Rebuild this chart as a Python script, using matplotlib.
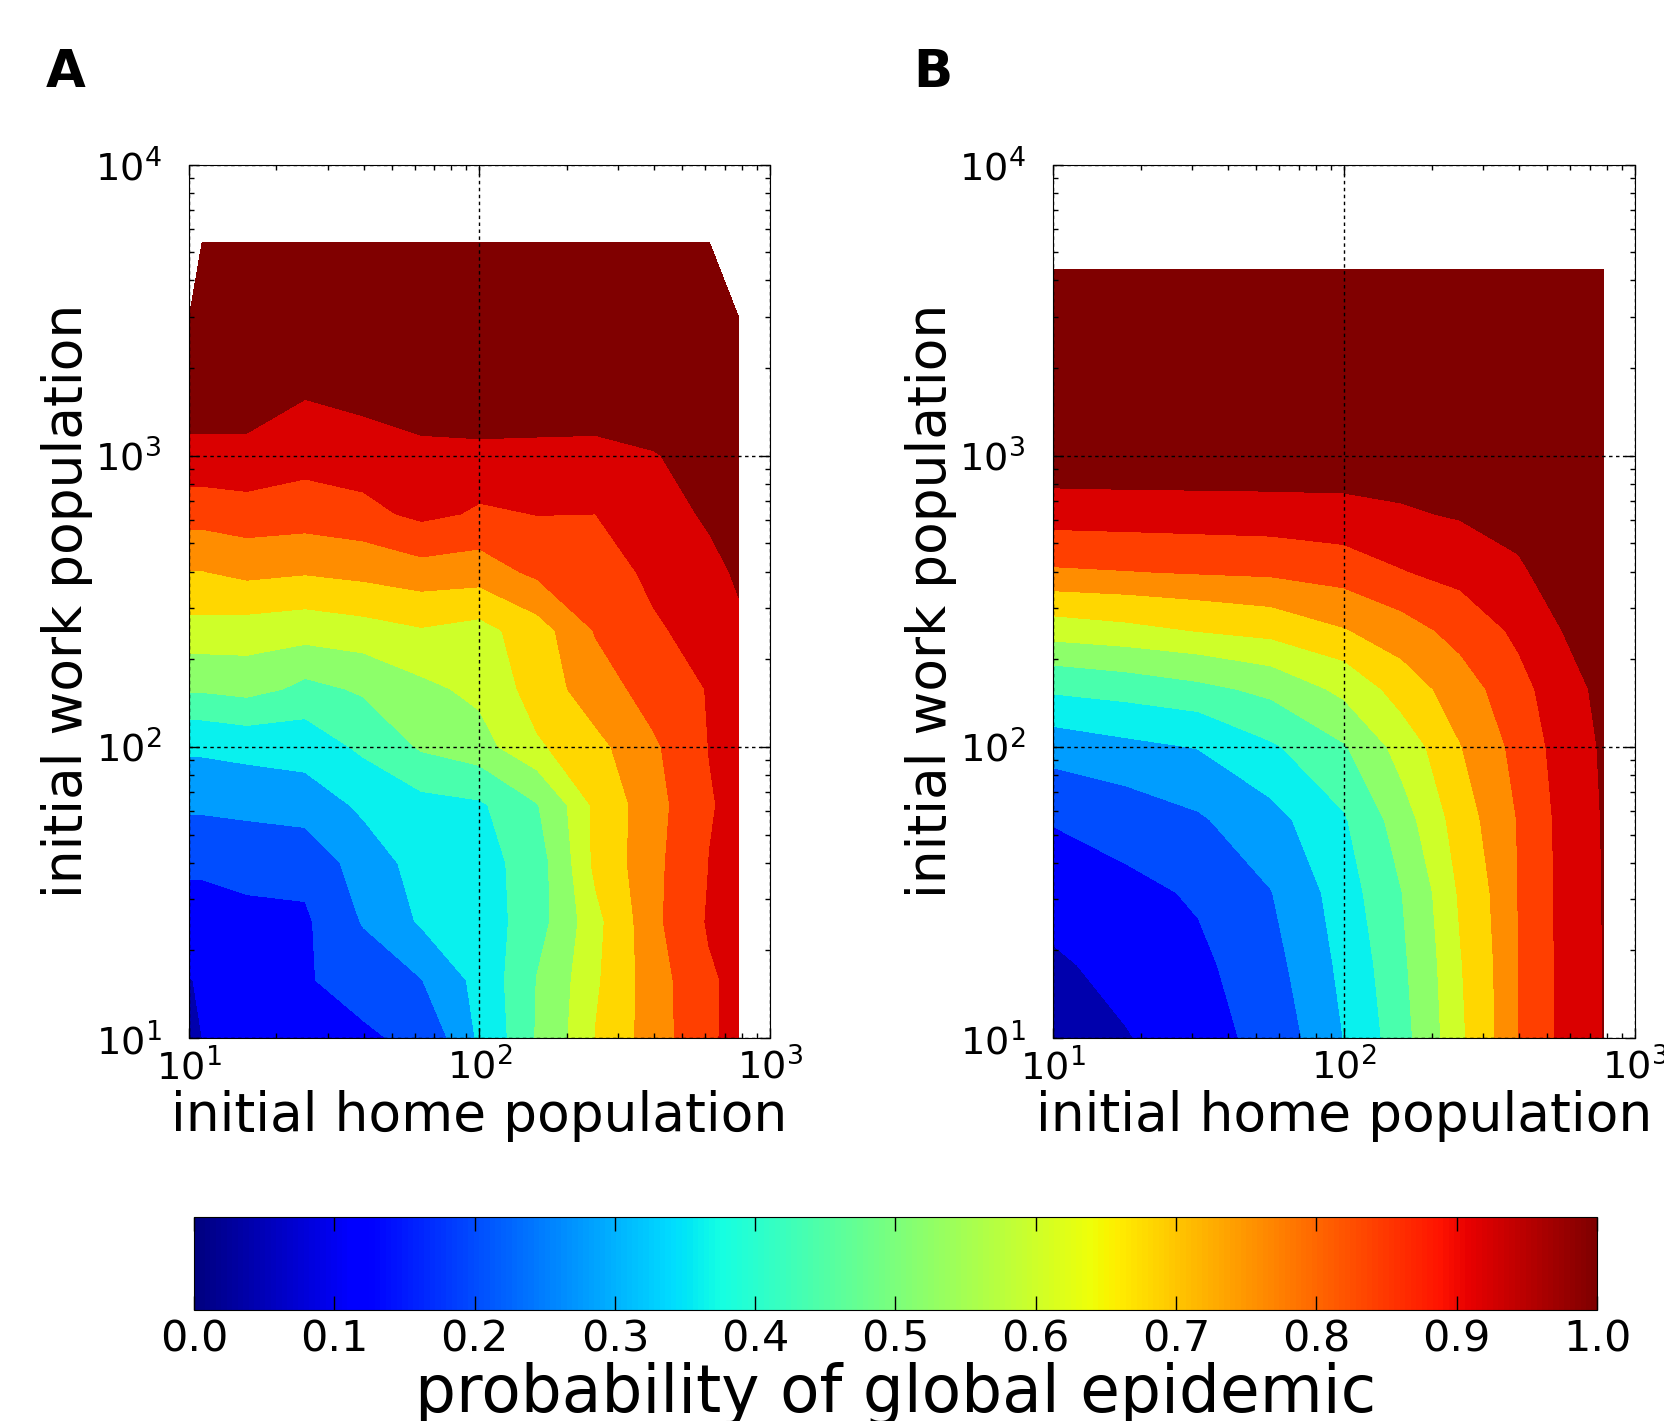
import numpy as np
import matplotlib
matplotlib.use('Agg')
import matplotlib.pyplot as plt
from matplotlib.colors import Normalize
from matplotlib.cm import ScalarMappable

# panel A: simulated probability of a global epidemic
home_a = [10, 11.1, 15.8, 25.1, 39.8, 63.1, 100, 158, 251, 398, 618, 782]
work_a = [10, 15.8, 25.1, 39.8, 63.1, 100, 158, 251, 398, 631, 1000, 1585, 2970, 5420]
prob_a = [
    [0.065, 0.08, 0.10, 0.13, 0.15, 0.18, 0.335, 0.488, 0.642, 0.768, 0.867, 0.91],
    [0.078, 0.085, 0.115, 0.155, 0.189, 0.238, 0.35, 0.483, 0.63, 0.77, 0.87, 0.90],
    [0.123, 0.123, 0.14, 0.15, 0.247, 0.332, 0.36, 0.45, 0.62, 0.785, 0.89, 0.89],
    [0.178, 0.178, 0.189, 0.184, 0.286, 0.349, 0.37, 0.445, 0.66, 0.783, 0.881, 0.885],
    [0.255, 0.255, 0.263, 0.284, 0.334, 0.378, 0.39, 0.476, 0.66, 0.776, 0.875, 0.90],
    [0.337, 0.337, 0.35, 0.355, 0.418, 0.491, 0.533, 0.63, 0.70, 0.79, 0.882, 0.915],
    [0.491, 0.491, 0.507, 0.459, 0.492, 0.544, 0.58, 0.68, 0.767, 0.835, 0.885, 0.93],
    [0.617, 0.617, 0.609, 0.599, 0.613, 0.634, 0.615, 0.69, 0.806, 0.87, 0.914, 0.95],
    [0.717, 0.717, 0.742, 0.727, 0.745, 0.772, 0.764, 0.819, 0.843, 0.90, 0.941, 0.97],
    [0.837, 0.837, 0.85, 0.844, 0.86, 0.90, 0.868, 0.882, 0.88, 0.929, 0.972, 0.985],
    [0.94, 0.94, 0.94, 0.910, 0.922, 0.943, 0.947, 0.945, 0.943, 0.957, 0.985, 0.99],
    [1.0, 1.0, 1.0, 0.962, 0.982, 1.0, 1.0, 1.0, 1.0, 1.0, 1.0, 1.0],
    [1.0, 1.0, 1.0, 0.99, 1.0, 1.0, 1.0, 1.0, 1.0, 1.0, 1.0, 1.0],
    [np.nan, 1.0, 1.0, 1.0, 1.0, 1.0, 1.0, 1.0, 1.0, 1.0, 1.0, np.nan],
]

# panel B: model prediction
home_b = [10, 17.8, 31.6, 56.2, 100, 158, 251, 398, 562, 780]
work_b = [10, 17.8, 31.6, 56.2, 100, 158, 251, 398, 631, 794, 1259, 4375]
prob_b = [
    [0.03, 0.076, 0.127, 0.196, 0.322, 0.454, 0.627, 0.799, 0.900, 0.962],
    [0.07, 0.107, 0.145, 0.217, 0.344, 0.466, 0.635, 0.800, 0.901, 0.962],
    [0.115, 0.141, 0.171, 0.238, 0.369, 0.479, 0.652, 0.802, 0.902, 0.963],
    [0.166, 0.199, 0.232, 0.298, 0.393, 0.527, 0.685, 0.805, 0.905, 0.965],
    [0.279, 0.303, 0.324, 0.391, 0.474, 0.597, 0.717, 0.83, 0.915, 0.97],
    [0.414, 0.434, 0.461, 0.504, 0.584, 0.678, 0.766, 0.855, 0.93, 0.98],
    [0.600, 0.619, 0.644, 0.668, 0.715, 0.770, 0.829, 0.899, 0.96, 0.99],
    [0.790, 0.797, 0.806, 0.814, 0.839, 0.876, 0.908, 0.953, 0.985, 1.0],
    [0.921, 0.925, 0.928, 0.931, 0.937, 0.952, 0.968, 0.98, 0.995, 1.0],
    [0.965, 0.967, 0.968, 0.969, 0.97, 0.975, 0.98, 0.99, 1.0, 1.0],
    [0.99, 0.99, 0.99, 0.99, 0.99, 0.99, 0.993, 0.995, 1.0, 1.0],
    [1.0, 1.0, 1.0, 1.0, 1.0, 1.0, 1.0, 1.0, 1.0, 1.0],
]

levels = np.arange(0, 1.05, 0.08)
cbar_ticks = [0.0, 0.1, 0.2, 0.3, 0.4, 0.5, 0.6, 0.7, 0.8, 0.9, 1.0]

plt.rcParams['font.family'] = 'DejaVu Sans'
plt.rcParams['mathtext.fontset'] = 'dejavusans'


def draw_panel(ax, home, work, prob):
    """Filled contour of epidemic probability on log-log axes."""
    z = np.ma.masked_invalid(np.array(prob, dtype=float))
    ax.contourf(home, work, z, levels=levels, cmap='jet', vmin=0, vmax=1)
    ax.set_xscale('log')
    ax.set_yscale('log')
    ax.set_xlim(10, 1000)
    ax.set_ylim(10, 10000)
    ax.set_axisbelow(False)
    ax.grid(True, which='major', color='black', linestyle=(0, (2.5, 2.5)), linewidth=1.0)
    ax.tick_params(which='both', direction='in', top=True, right=True, labelsize=27.5)
    ax.tick_params(which='major', length=7, width=1)
    ax.tick_params(which='minor', length=3.5, width=1)
    ax.tick_params(axis='x', which='major', pad=7)
    ax.tick_params(axis='y', which='major', pad=20)
    ax.set_xlabel('initial home population', fontsize=38.5, labelpad=2)
    ax.set_ylabel('initial work population', fontsize=38.5, labelpad=1.5)


fig = plt.figure(figsize=(16.64, 14.21), dpi=100)
ax_a = fig.add_axes([0.1136, 0.2695, 0.3491, 0.6147])
ax_b = fig.add_axes([0.6328, 0.2695, 0.3497, 0.6147])
draw_panel(ax_a, home_a, work_a, prob_a)
draw_panel(ax_b, home_b, work_b, prob_b)

fig.text(0.0276, 0.9486, 'A', fontsize=37, fontweight='bold', va='center', ha='left')
fig.text(0.5486, 0.9486, 'B', fontsize=37, fontweight='bold', va='center', ha='left')

cax = fig.add_axes([0.1166, 0.0781, 0.8431, 0.0654])
sm = ScalarMappable(norm=Normalize(0, 1), cmap='jet')
cb = fig.colorbar(sm, cax=cax, orientation='horizontal', ticks=cbar_ticks)
cb.ax.tick_params(direction='in', top=True, bottom=True, length=10, width=1,
                  labelsize=31, pad=6)
cb.ax.set_xticklabels(['%.1f' % t for t in cbar_ticks])
cb.set_label('probability of global epidemic', fontsize=46.5, labelpad=1)

fig.savefig('out.png', dpi=100)
